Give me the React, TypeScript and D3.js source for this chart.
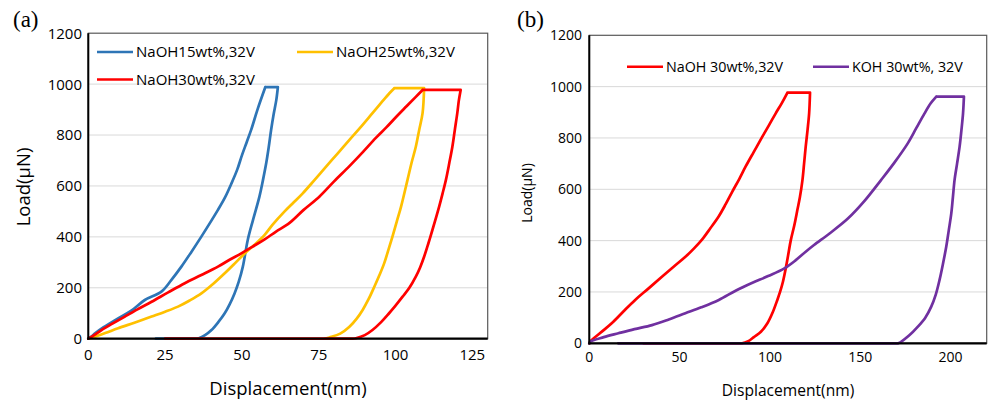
import React, { useEffect, useRef } from 'react';
import * as d3 from 'd3';

// displacement (nm), load (uN)
const naoh15: [number, number][] = [
  [0, 0], [1, 8], [2.2, 21], [5, 45], [9.7, 80], [14, 110], [18.4, 152], [23.8, 185], [27, 230],
  [30.3, 283], [33.5, 340], [36.8, 401], [42.2, 506], [44.5, 555], [46.6, 610], [48.5, 665],
  [50, 720], [51.5, 770], [53, 820], [55.2, 905], [57.6, 988], [61.7, 988],
  [61.2, 938], [60.3, 880], [59.5, 820], [58.7, 750], [57.9, 689], [56.8, 620], [55.7, 558],
  [53.6, 466], [51.9, 388], [50.3, 283], [49, 225], [47.6, 178], [46, 135], [44.4, 100],
  [42.3, 65], [40.1, 34], [38, 14], [36, 2], [35.5, 0], [22, 0],
];

const naoh25: [number, number][] = [
  [0, 0], [2.2, 8], [5.5, 22], [9.7, 41], [15, 63], [20.6, 87], [25, 106], [29.2, 126], [33, 150],
  [36.8, 178], [40.6, 215], [44.4, 257], [47.7, 296], [50.9, 335], [54, 368], [57.4, 408],
  [60, 448], [63.9, 500], [66.8, 535], [69.8, 571], [73.6, 623], [77.4, 676], [81.2, 728],
  [85, 781], [88.8, 833], [92.5, 886], [95.3, 926], [98, 964], [99.6, 984], [109.3, 984],
  [108.8, 886], [107.7, 820], [106.6, 754], [105.2, 690], [103.9, 624], [101.8, 519],
  [100.4, 460], [99, 401], [97.6, 346], [96.3, 296], [94.7, 248], [93.1, 204], [91.3, 157],
  [89.3, 113], [87.3, 78], [85, 47], [82, 20], [78.5, 5], [77, 0],
];

const naoh30a: [number, number][] = [
  [0, 0], [2, 15], [4.3, 34], [8, 60], [11.9, 87], [16, 115], [20.6, 145], [26, 182], [31.4, 218],
  [36.8, 250], [42.2, 283], [46, 310], [49.8, 335], [53.5, 362], [57.4, 390], [61, 420],
  [65.5, 455], [70, 505], [75.2, 558], [80, 618], [85, 678], [89.5, 735], [93.6, 789], [97, 830],
  [100.1, 870], [103.5, 912], [106.6, 950], [108.8, 977], [121.2, 977],
  [120.6, 935], [120.1, 886], [119.3, 820], [118.5, 754], [117.5, 690], [116.4, 624],
  [115.3, 570], [114.2, 519], [112, 427], [110.7, 375], [109.3, 322], [108, 280], [106.6, 244],
  [104.5, 200], [102.3, 165], [100, 130], [97.9, 100], [95.3, 65], [92.5, 34], [90, 14],
  [87.1, 2], [86, 0], [25, 0],
];

const naoh30b: [number, number][] = [
  [0, 0], [0.4, 6], [6, 40], [12.4, 78], [19, 125], [25.4, 169], [33, 215], [40.2, 259], [47, 300],
  [53.2, 337], [58, 370], [62.4, 404], [67, 448], [71.7, 495], [75.5, 542], [79.1, 590],
  [83, 640], [86.5, 688], [91, 745], [95.8, 805], [99.5, 850], [103.2, 896], [106.5, 935],
  [109.7, 977], [122.2, 977],
  [121.7, 896], [120.8, 830], [119.8, 766], [118.9, 700], [118, 636], [116.6, 570],
  [115.2, 520], [113.5, 460], [111.5, 400], [110, 340], [108.7, 290], [107.2, 240],
  [105.6, 200], [104.1, 169], [101.5, 120], [98.6, 78], [95, 45], [91.1, 24], [88, 8],
  [85.6, 2], [84.7, 0], [30, 0],
];

const koh30: [number, number][] = [
  [0, 0], [0.4, 6], [8, 24], [16.1, 39], [25, 55], [34.7, 71], [44, 93], [53.2, 117], [62, 140],
  [71.7, 169], [81, 205], [90, 235], [99, 262], [108, 292], [114, 322], [119.8, 357],
  [124.4, 383], [133, 428], [143, 485], [152, 552], [161.5, 636], [169, 705], [176.3, 779],
  [181, 838], [185.6, 896], [189, 935], [192.1, 961], [207.4, 961],
  [206.9, 896], [206, 830], [205, 766], [203.6, 700], [202.2, 636], [201.3, 570], [200.4, 506],
  [199, 440], [197.6, 376], [195.8, 310], [193.9, 247], [191.8, 190], [189.3, 143], [186, 100],
  [181.9, 65], [177, 30], [172.6, 6], [171, 0], [16, 0],
];

const loadTicks = [0, 200, 400, 600, 800, 1000, 1200];
const dispTicksA = [0, 25, 50, 75, 100, 125];
const dispTicksB = [0, 50, 100, 150, 200];

const FONT = "'Open Sans', sans-serif";

type Pt = [number, number];
type Series = { name: string; color: string; data: Pt[]; lx: number; ly: number };

type PanelCfg = {
  label: string;
  labelX: number;
  left: number; right: number; top: number; bottom: number;
  xMax: number;
  xTicks: number[];
  series: Series[];
  tickSize: number;
  legendSize: number;
  xTitle: { x: number; y: number; size: number };
  yTitle: { x: number; y: number; size: number };
  yLabelX: number;
  xLabelY: number;
};

const panels: PanelCfg[] = [
  {
    label: '(a)', labelX: 13,
    left: 88.3, right: 487.7, top: 33.2, bottom: 338.7,
    xMax: 130, xTicks: dispTicksA,
    series: [
      { name: 'NaOH15wt%,32V', color: '#2E75B6', data: naoh15, lx: 97, ly: 52 },
      { name: 'NaOH25wt%,32V', color: '#FFC000', data: naoh25, lx: 297, ly: 52 },
      { name: 'NaOH30wt%,32V', color: '#FF0000', data: naoh30a, lx: 97, ly: 79.5 },
    ],
    tickSize: 15, legendSize: 15,
    xTitle: { x: 288, y: 394.5, size: 18.5 },
    yTitle: { x: 23, y: 187, size: 18.5 },
    yLabelX: 82, xLabelY: 355,
  },
  {
    label: '(b)', labelX: 517,
    left: 589.3, right: 986.7, top: 35.3, bottom: 343.3,
    xMax: 220, xTicks: dispTicksB,
    series: [
      { name: 'NaOH 30wt%,32V', color: '#FF0000', data: naoh30b, lx: 627, ly: 66.7 },
      { name: 'KOH 30wt%, 32V', color: '#7030A0', data: koh30, lx: 813, ly: 66.7 },
    ],
    tickSize: 14, legendSize: 14.3,
    xTitle: { x: 788, y: 396, size: 15.6 },
    yTitle: { x: 527, y: 193, size: 14 },
    yLabelX: 582, xLabelY: 357,
  },
];

// split a curve at flat stretches (hold plateau, zero-load retract) so the
// smoothing doesn't round off the sharp corners
const splitRuns = (data: Pt[]) => {
  const runs: { pts: Pt[]; flat: boolean }[] = [];
  let cur: Pt[] = [data[0]];
  for (let i = 1; i < data.length; i++) {
    const flat = data[i][1] === data[i - 1][1];
    if (flat) {
      if (cur.length > 1) runs.push({ pts: cur, flat: false });
      runs.push({ pts: [data[i - 1], data[i]], flat: true });
      cur = [data[i]];
    } else {
      cur.push(data[i]);
    }
  }
  if (cur.length > 1) runs.push({ pts: cur, flat: false });
  return runs;
};

const App = () => {
  const svgRef = useRef<SVGSVGElement>(null);

  useEffect(() => {
    const svg = d3.select(svgRef.current);
    svg.selectAll('*').remove();
    svg.append('rect').attr('width', 989).attr('height', 402).attr('fill', '#fff');

    panels.forEach(p => {
      const x = d3.scaleLinear().domain([0, p.xMax]).range([p.left, p.right]);
      const y = d3.scaleLinear().domain([0, 1200]).range([p.bottom, p.top]);
      const g = svg.append('g');

      // grid
      g.selectAll('line.grid')
        .data(loadTicks.filter(t => t > 0 && t < 1200))
        .enter()
        .append('line')
        .attr('x1', p.left).attr('x2', p.right)
        .attr('y1', d => y(d)).attr('y2', d => y(d))
        .attr('stroke', '#d9d9d9').attr('stroke-width', 1);

      // plot area border
      g.append('rect')
        .attr('x', p.left).attr('y', p.top)
        .attr('width', p.right - p.left).attr('height', p.bottom - p.top)
        .attr('fill', 'none').attr('stroke', '#595959').attr('stroke-width', 1.2);

      // curves
      const smooth = d3.line<Pt>().x(d => x(d[0])).y(d => y(d[1])).curve(d3.curveCatmullRom.alpha(0.5));
      const straight = d3.line<Pt>().x(d => x(d[0])).y(d => y(d[1]));
      p.series.forEach(s => {
        const d = splitRuns(s.data)
          .map(r => (r.flat ? straight(r.pts) : smooth(r.pts)))
          .join('');
        g.append('path')
          .attr('d', d)
          .attr('fill', 'none')
          .attr('stroke', s.color)
          .attr('stroke-width', 2.7)
          .attr('stroke-linejoin', 'round')
          .attr('stroke-linecap', 'round');
      });

      // axes
      g.append('line')
        .attr('x1', p.left).attr('x2', p.left).attr('y1', p.top).attr('y2', p.bottom + 1)
        .attr('stroke', '#000').attr('stroke-width', 2);
      g.append('line')
        .attr('x1', p.left - 1).attr('x2', p.right).attr('y1', p.bottom).attr('y2', p.bottom)
        .attr('stroke', '#000').attr('stroke-width', 2.2);

      // tick labels
      g.selectAll('text.yl')
        .data(loadTicks)
        .enter()
        .append('text')
        .attr('x', p.yLabelX)
        .attr('y', d => y(d))
        .attr('dy', '0.36em')
        .attr('text-anchor', 'end')
        .style('font-family', FONT)
        .style('font-size', `${p.tickSize}px`)
        .attr('fill', '#000')
        .text(d => d);

      g.selectAll('text.xl')
        .data(p.xTicks)
        .enter()
        .append('text')
        .attr('x', d => x(d))
        .attr('y', p.xLabelY)
        .attr('dy', '0.36em')
        .attr('text-anchor', 'middle')
        .style('font-family', FONT)
        .style('font-size', `${p.tickSize}px`)
        .attr('fill', '#000')
        .text(d => d);

      // titles
      g.append('text')
        .attr('x', p.xTitle.x).attr('y', p.xTitle.y)
        .attr('text-anchor', 'middle')
        .style('font-family', FONT)
        .style('font-size', `${p.xTitle.size}px`)
        .text('Displacement(nm)');

      g.append('text')
        .attr('transform', `translate(${p.yTitle.x},${p.yTitle.y}) rotate(-90)`)
        .attr('dy', '0.36em')
        .attr('text-anchor', 'middle')
        .style('font-family', FONT)
        .style('font-size', `${p.yTitle.size}px`)
        .text('Load(μN)');

      // legend
      p.series.forEach(s => {
        g.append('line')
          .attr('x1', s.lx).attr('x2', s.lx + 36)
          .attr('y1', s.ly).attr('y2', s.ly)
          .attr('stroke', s.color).attr('stroke-width', 2.6);
        g.append('text')
          .attr('x', s.lx + 39).attr('y', s.ly)
          .attr('dy', '0.36em')
          .style('font-family', FONT)
          .style('font-size', `${p.legendSize}px`)
          .attr('fill', '#000')
          .text(s.name);
      });

      // panel label
      svg.append('text')
        .attr('x', p.labelX).attr('y', 27)
        .style('font-family', "'Liberation Serif', 'Times New Roman', serif")
        .style('font-size', '23px')
        .text(p.label);
    });
  }, []);

  return (
    <svg
      ref={svgRef}
      width={989}
      height={402}
      style={{ position: 'absolute', left: 0, top: 0 }}
    />
  );
};

export default App;
